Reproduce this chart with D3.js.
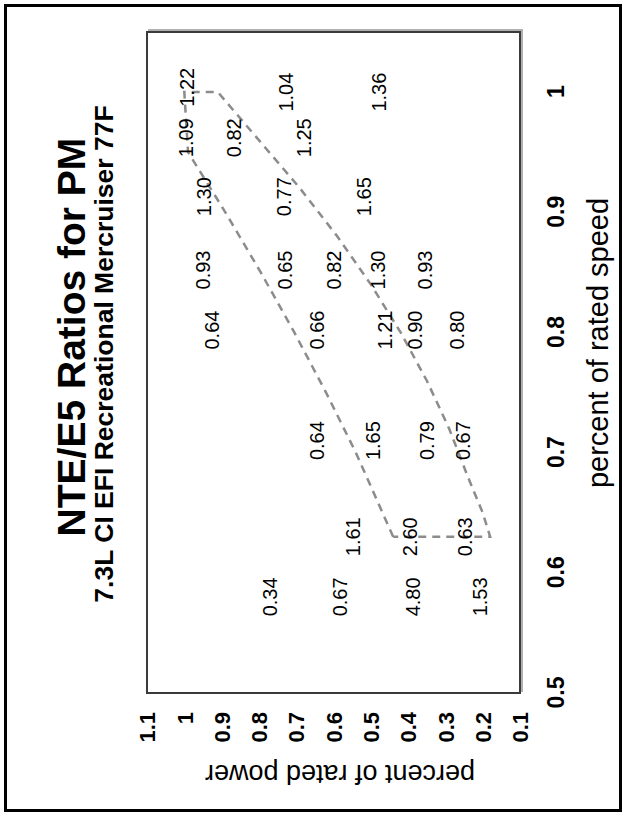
<!DOCTYPE html>
<html>
<head>
<meta charset="utf-8">
<script src="https://cdn.jsdelivr.net/npm/d3@7"></script>
<style>
  body { margin: 0; background: #fff; }
  svg { display: block; }
  text { font-family: "Liberation Sans", Arial, Helvetica, sans-serif; fill: #000; }
</style>
</head>
<body>
<svg id="chart" width="626" height="816"></svg>
<script>
// ---- data: fractions of rated speed / rated power ----
const speedTicks = [0.5, 0.6, 0.7, 0.8, 0.9, 1];
const powerTicks = [1.1, 1, 0.9, 0.8, 0.7, 0.6, 0.5, 0.4, 0.3, 0.2, 0.1];

// NTE/E5 ratio labels at each test point
const ratioText  = ["1.22", "1.04", "1.36",
                    "1.09", "0.82", "1.25",
                    "1.30", "0.77", "1.65",
                    "0.93", "0.65", "0.82", "1.30", "0.93",
                    "0.64", "0.66", "1.21", "0.90", "0.80",
                    "0.64", "1.65", "0.79", "0.67",
                    "1.61", "2.60", "0.63",
                    "0.34", "0.67", "4.80", "1.53"];
const ratioSpeed = [1.004, 1.00, 1.00,
                    0.962, 0.962, 0.962,
                    0.913, 0.913, 0.913,
                    0.852, 0.852, 0.852, 0.852, 0.852,
                    0.802, 0.802, 0.802, 0.802, 0.802,
                    0.71, 0.71, 0.71, 0.71,
                    0.63, 0.63, 0.63,
                    0.58, 0.58, 0.58, 0.58];
const ratioPower = [0.993, 0.728, 0.478,
                    0.996, 0.867, 0.679,
                    0.947, 0.733, 0.518,
                    0.949, 0.73, 0.60, 0.48, 0.355,
                    0.927, 0.645, 0.462, 0.381, 0.27,
                    0.645, 0.493, 0.35, 0.252,
                    0.547, 0.395, 0.247,
                    0.77, 0.583, 0.386, 0.207];

// NTE zone outline (closed polygon)
const zoneSpeed = [0.63, 0.70, 0.75, 0.80, 0.85, 0.90, 0.95, 1.00,
                   1.00, 0.96, 0.92, 0.88, 0.84, 0.80, 0.76, 0.72, 0.68, 0.65, 0.63, 0.63];
const zonePower = [0.44, 0.54, 0.62, 0.705, 0.795, 0.89, 0.99, 1.00,
                   0.91, 0.80, 0.69, 0.59, 0.50, 0.42, 0.35, 0.29, 0.24, 0.20, 0.18, 0.44];

const titleText = "NTE/E5 Ratios for PM";
const subtitleText = "7.3L CI EFI Recreational Mercruiser 77F";
const speedTitle = "percent of rated speed";
const powerTitle = "percent of rated power";

// ---- drawing ----
const PAGE_W = 626, PAGE_H = 816;
const svg = d3.select("#chart");

// page frame
svg.append("rect")
  .attr("x", 5.5).attr("y", 5.5)
  .attr("width", PAGE_W - 11).attr("height", PAGE_H - 11)
  .attr("fill", "none").attr("stroke", "#000").attr("stroke-width", 3);

// the chart is laid out landscape and turned a quarter turn onto the page
const g = svg.append("g").attr("transform", `translate(0,${PAGE_H}) rotate(-90)`);

const x = d3.scaleLinear().domain([0.5, 1.05]).range([123, 784]);
const y = d3.scaleLinear().domain([0.1, 1.1]).range([520, 147]);

// plot area with a soft drop shadow
const [x0, x1] = x.range();
const [yb, yt] = y.range();
g.append("rect")
  .attr("x", x0 + 2).attr("y", yt + 2)
  .attr("width", x1 - x0).attr("height", yb - yt)
  .attr("fill", "none").attr("stroke", "#b0b0b0").attr("stroke-width", 2);
g.append("rect")
  .attr("x", x0).attr("y", yt)
  .attr("width", x1 - x0).attr("height", yb - yt)
  .attr("fill", "#fff").attr("stroke", "#3a3a3a").attr("stroke-width", 2);

// speed axis (labels only)
const ax = g.append("g").attr("transform", `translate(0,${yb})`)
  .call(d3.axisBottom(x).tickValues(speedTicks).tickSize(0).tickPadding(0).tickFormat(d3.format("")));
ax.select(".domain").remove();
ax.selectAll("text")
  .attr("y", 36).attr("dy", "0.35em")
  .style("font-size", "23px").style("font-weight", "bold");

// power axis (labels only)
const ay = g.append("g").attr("transform", `translate(104,0)`)
  .call(d3.axisLeft(y).tickValues(powerTicks).tickSize(0).tickPadding(0).tickFormat(d3.format("")));
ay.select(".domain").remove();
ay.selectAll("text")
  .attr("x", 0).attr("dy", "0.35em")
  .style("font-size", "22px").style("font-weight", "bold");

// axis titles
g.append("text")
  .attr("x", PAGE_H - 343).attr("y", 598)
  .attr("text-anchor", "middle").attr("dominant-baseline", "central")
  .style("font-size", "29px")
  .text(speedTitle);
g.append("text")
  .attr("transform", `translate(42,340) rotate(-90)`)
  .attr("text-anchor", "middle").attr("dominant-baseline", "central")
  .style("font-size", "27px")
  .text(powerTitle);

// chart titles
g.append("text")
  .attr("x", PAGE_H - 337).attr("y", 71)
  .attr("text-anchor", "middle").attr("dominant-baseline", "central")
  .style("font-size", "39px").style("font-weight", "bold")
  .text(titleText);
g.append("text")
  .attr("x", PAGE_H - 354).attr("y", 104)
  .attr("text-anchor", "middle").attr("dominant-baseline", "central")
  .style("font-size", "26.5px").style("font-weight", "bold")
  .text(subtitleText);

// NTE zone outline
const zone = d3.line()
  .x((d, i) => x(zoneSpeed[i]))
  .y((d, i) => y(zonePower[i]));
g.append("path")
  .attr("d", zone(zoneSpeed))
  .attr("fill", "none")
  .attr("stroke", "#8c8c8c")
  .attr("stroke-width", 2.5)
  .attr("stroke-dasharray", "8,6");

// ratio labels
g.append("g").selectAll("text")
  .data(ratioText)
  .join("text")
  .attr("x", (d, i) => x(ratioSpeed[i]))
  .attr("y", (d, i) => y(ratioPower[i]))
  .attr("text-anchor", "middle").attr("dominant-baseline", "central")
  .style("font-size", "20px")
  .text(d => d);
</script>
</body>
</html>
